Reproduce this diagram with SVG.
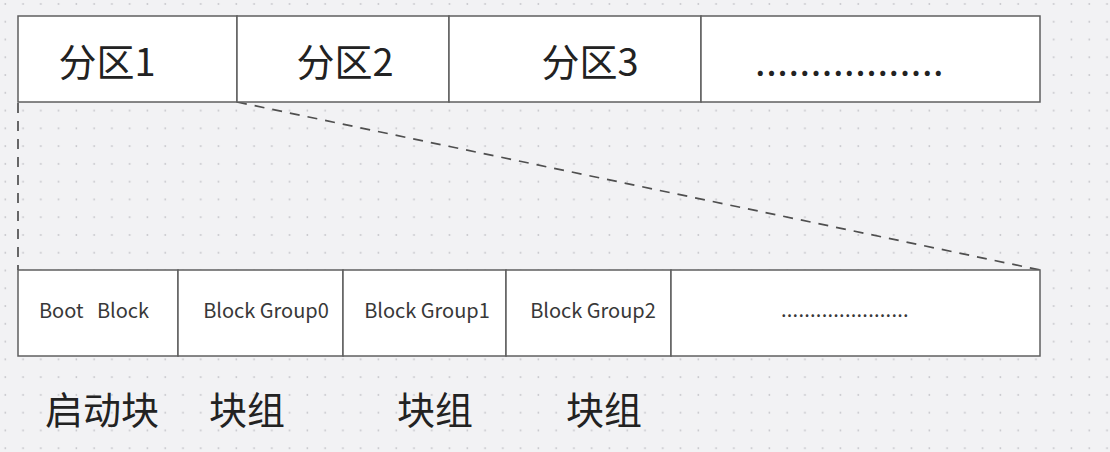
<svg xmlns="http://www.w3.org/2000/svg" width="1110" height="452" viewBox="0 0 1110 452">
<style>
.box{fill:#ffffff;stroke:#5f5f5f;stroke-width:1.5}
.dash{fill:none;stroke:#4f4f4f;stroke-width:1.7;stroke-dasharray:10 8}
.big{font-family:"Noto Sans CJK SC","Noto Sans",sans-serif;font-size:38px;fill:#222222}
.small{font-family:"Noto Sans CJK SC","Noto Sans",sans-serif;font-size:20px;fill:#383838;white-space:pre}
</style>
<defs>
<pattern id="grid" patternUnits="userSpaceOnUse" x="0" y="0" width="17.77" height="17.77">
<circle cx="5.3" cy="4" r="0.95" fill="#c6c6cb"/>
</pattern>
</defs>
<rect x="0" y="0" width="1110" height="452" fill="#f2f2f4"/>
<rect x="0" y="0" width="1110" height="452" fill="url(#grid)"/>

<g id="connectors">
<line class="dash" x1="18" y1="103" x2="18" y2="270"/>
<line class="dash" x1="237" y1="102" x2="1040" y2="270"/>
</g>

<g id="p1"><rect class="box" x="18" y="16" width="219" height="86"/><text class="big" x="107" y="76" text-anchor="middle">分区1</text></g>
<g id="p2"><rect class="box" x="237" y="16" width="212" height="86"/><text class="big" x="345" y="76" text-anchor="middle">分区2</text></g>
<g id="p3"><rect class="box" x="449" y="16" width="252" height="86"/><text class="big" x="590" y="76" text-anchor="middle">分区3</text></g>
<g id="p4"><rect class="box" x="701" y="16" width="339" height="86"/><text class="big" x="755" y="76" textLength="188.7" lengthAdjust="spacing">.................</text></g>

<g id="b0"><rect class="box" x="18" y="270" width="160" height="86"/><text class="small" x="94" y="317.5" text-anchor="middle">Boot   Block</text></g>
<g id="b1"><rect class="box" x="178" y="270" width="165" height="86"/><text class="small" x="266" y="317.5" text-anchor="middle">Block Group0</text></g>
<g id="b2"><rect class="box" x="343" y="270" width="163" height="86"/><text class="small" x="427" y="317.5" text-anchor="middle">Block Group1</text></g>
<g id="b3"><rect class="box" x="506" y="270" width="165" height="86"/><text class="small" x="593" y="317.5" text-anchor="middle">Block Group2</text></g>
<g id="b4"><rect class="box" x="671" y="270" width="369" height="86"/><text class="small" x="781" y="317" textLength="127.6" lengthAdjust="spacing">......................</text></g>

<g id="labels">
<text class="big" x="102" y="424" text-anchor="middle" font-size="40">启动块</text>
<text class="big" x="247" y="424" text-anchor="middle" font-size="40">块组</text>
<text class="big" x="435" y="424" text-anchor="middle" font-size="40">块组</text>
<text class="big" x="604" y="424" text-anchor="middle" font-size="40">块组</text>
</g>
</svg>
